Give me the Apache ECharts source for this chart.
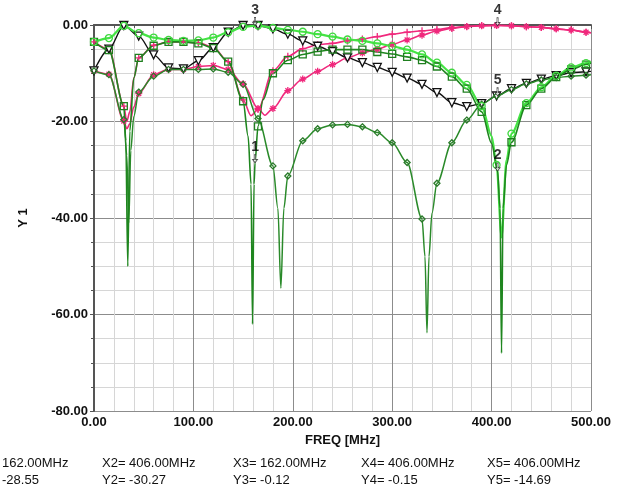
<!DOCTYPE html>
<html>
<head>
<meta charset="utf-8">
<script src="https://cdn.jsdelivr.net/npm/echarts@6/dist/echarts.min.js"></script>
<style>
html,body{margin:0;padding:0;background:#fff;}
#container{width:619px;height:491px;}
</style>
</head>
<body>
<div id="container"></div>
<script>
// traces: [freq MHz, dB]
var lightGreen = [[0,-3.5],[15,-2.7],[30,-0.2],[45,-1.7],[60,-2.6],[75,-3.1],[90,-3.3],[105,-3.2],[120,-2.6],[135,-1.5],[150,-0.4],[165,-0.1],[180,-0.6],[195,-1.0],[210,-1.4],[225,-1.9],[240,-2.4],[255,-3.0],[270,-3.3],[285,-3.8],[300,-4.4],[315,-5.1],[330,-6.1],[345,-7.8],[360,-9.9],[375,-12.4],[390,-16.8],[400,-23],[405,-29],[410,-44],[415,-28],[420,-22.5],[435,-16.2],[450,-12.9],[465,-10.5],[480,-8.8],[495,-7.9],[500,-7.6]];
var darkGreen = [[0,-3.5],[15,-5.2],[30,-16.8],[32,-24],[34,-50],[36,-22],[40,-11],[45,-6.8],[60,-4.3],[75,-3.5],[90,-3.5],[105,-3.8],[120,-4.8],[135,-7.6],[150,-15.8],[155,-23],[158,-33],[159.5,-62],[161,-33],[162,-28.55],[165,-21],[170,-15.5],[180,-10],[195,-7.3],[210,-6.1],[225,-5.5],[240,-5.1],[255,-5.1],[270,-5.1],[285,-5.6],[300,-6.0],[315,-6.6],[330,-7.3],[345,-8.6],[360,-10.7],[375,-13.2],[390,-18.0],[400,-24.5],[406,-30.27],[408.5,-38],[410,-68],[411.5,-38],[415,-29],[420,-24.3],[435,-16.6],[450,-13.2],[465,-10.8],[480,-9.2],[495,-8.2],[500,-7.9]];
var oliveGreen = [[0,-9.5],[15,-10.3],[30,-19.6],[33,-27],[35,-41],[37,-26],[40,-19],[45,-13.9],[60,-10.6],[75,-9.2],[90,-9.2],[105,-9.2],[120,-9.1],[135,-9.8],[150,-12.3],[165,-19.4],[180,-29.2],[185,-38],[188,-54.5],[191,-38],[195,-31.3],[210,-24],[225,-21.5],[240,-20.7],[255,-20.6],[270,-21.1],[285,-22.3],[300,-24.4],[315,-28.5],[330,-40.2],[333,-48],[335,-63.8],[337,-48],[340,-39],[345,-32.8],[360,-24.4],[375,-19.7],[390,-16.4],[405,-14.7],[420,-13.4],[435,-12.2],[450,-11.4],[465,-10.9],[480,-10.6],[495,-10.4],[500,-10.3]];
var blackTrace = [[0,-9.5],[15,-5],[30,-0.1],[45,-2.3],[60,-6.2],[75,-8.9],[90,-9.1],[105,-7.4],[120,-4.7],[135,-1.5],[150,-0.1],[165,-0.1],[180,-0.8],[195,-1.9],[210,-3.3],[225,-4.4],[240,-5.5],[255,-6.8],[270,-7.8],[285,-8.8],[300,-9.8],[315,-11.0],[330,-12.3],[345,-14.0],[360,-16.1],[375,-16.9],[390,-16.3],[405,-14.7],[420,-13.2],[435,-12.1],[450,-11.2],[465,-10.5],[480,-9.9],[495,-9.7],[500,-9.6]];
var pinkStar = [[0,-9.5],[15,-10.2],[30,-19.9],[33,-21.5],[36,-20.5],[40,-17],[45,-14.2],[60,-10.3],[75,-9.2],[90,-9.2],[105,-8.6],[120,-8.4],[135,-9.2],[150,-12.2],[165,-17.3],[172,-18.7],[180,-17.3],[195,-13.6],[210,-11.2],[225,-9.6],[240,-8.2],[255,-6.8],[270,-5.8],[285,-5.0],[300,-4.0],[315,-3.1],[330,-2.1],[345,-1.25],[360,-0.7],[375,-0.35],[390,-0.15],[405,-0.1],[420,-0.15],[435,-0.35],[450,-0.5],[465,-0.8],[480,-1.05],[495,-1.5],[500,-1.6]];
var pinkPlus = [[0,-3.5],[15,-5.0],[30,-16.8],[33,-20],[36,-18],[40,-11],[45,-6.8],[60,-4.2],[75,-3.5],[90,-3.5],[105,-3.7],[120,-4.6],[135,-7.6],[150,-15.5],[158,-18.8],[165,-17.5],[180,-9.5],[195,-6.5],[210,-4.9],[225,-4.1],[240,-3.8],[255,-3.3],[270,-2.9],[285,-2.4],[300,-1.9],[315,-1.5],[330,-1.2],[345,-0.95],[360,-0.55],[375,-0.3],[390,-0.12],[405,-0.05],[420,-0.15],[435,-0.35],[450,-0.5],[465,-0.8],[480,-1.05],[495,-1.5],[500,-1.6]];

// markers 1..5
var markerNames = ['1','2','3','4','5'];
var markerFreq = [162, 406, 162, 406, 406];
var markerVal = [-28.55, -30.27, -0.12, -0.15, -14.69];

var dom = document.getElementById('container');
var myChart = echarts.init(dom);

var FONT = '"Liberation Sans", Arial, sans-serif';
var PINK = '#f0287c';

// trace markers sit every 15 MHz
function markerPoints(curve){
	return curve.filter(function(p){ return p[0] % 15 === 0; });
}

function trace(data, color, width, z){
	return {
		type: 'line', data: data, smooth: 0.3, smoothMonotone: 'x',
		showSymbol: false, z: z, silent: true,
		lineStyle: {color: color, width: width}
	};
}
function marks(data, symbol, size, fill, stroke, rot, z){
	return {
		type: 'scatter', data: markerPoints(data), symbol: symbol, symbolSize: size,
		symbolRotate: rot || 0, z: z, silent: true,
		itemStyle: {color: fill, borderColor: stroke, borderWidth: 1.3, opacity: 1}
	};
}

var starPath = 'path://M5,0 L5,10 M0,5 L10,5 M1.5,1.5 L8.5,8.5 M8.5,1.5 L1.5,8.5';
var plusPath = 'path://M5,0 L5,10 M0,5 L10,5';

var option = {
	animation: false,
	backgroundColor: '#fff',
	grid: {left: 94, right: 28, top: 25, bottom: 80},
	xAxis: {
		type: 'value', min: 0, max: 500, interval: 100,
		name: 'FREQ [MHz]', nameLocation: 'middle', nameGap: 20,
		nameTextStyle: {fontFamily: FONT, fontWeight: 'bold', fontSize: 13, color: '#111'},
		axisLine: {show: true, lineStyle: {color: '#555', width: 2}},
		axisTick: {show: true, length: 4, lineStyle: {color: '#555'}},
		minorTick: {show: true, splitNumber: 5, length: 3, lineStyle: {color: '#555'}},
		axisLabel: {fontFamily: FONT, fontWeight: 'bold', fontSize: 13, color: '#111', margin: 5,
			formatter: function(v){ return v.toFixed(2); }},
		splitLine: {show: true, lineStyle: {color: '#8c8c8c', width: 1}},
		minorSplitLine: {show: true, lineStyle: {color: '#d6d6d6', width: 1}}
	},
	yAxis: {
		type: 'value', min: -80, max: 0, interval: 20,
		name: 'Y 1', nameLocation: 'middle', nameGap: 64,
		nameTextStyle: {fontFamily: FONT, fontWeight: 'bold', fontSize: 13, color: '#111'},
		axisLine: {show: true, lineStyle: {color: '#555', width: 2}},
		axisTick: {show: true, length: 4, lineStyle: {color: '#555'}},
		minorTick: {show: true, splitNumber: 4, length: 3, lineStyle: {color: '#555'}},
		axisLabel: {fontFamily: FONT, fontWeight: 'bold', fontSize: 13, color: '#111', margin: 6,
			formatter: function(v){ return v.toFixed(2); }},
		splitLine: {show: true, lineStyle: {color: '#8c8c8c', width: 1}},
		minorSplitLine: {show: true, lineStyle: {color: '#d6d6d6', width: 1}}
	},
	series: [
		trace(pinkStar, PINK, 1.6, 2),
		trace(pinkPlus, PINK, 1.6, 2),
		trace(blackTrace, '#111', 1.4, 3),
		trace(oliveGreen, '#2a8a2a', 1.5, 4),
		trace(darkGreen, '#1f861f', 1.6, 5),
		trace(lightGreen, '#44e444', 2.2, 4),
		marks(pinkStar, starPath, 7, 'none', PINK, 0, 6),
		marks(pinkPlus, plusPath, 7, 'none', PINK, 0, 6),
		marks(blackTrace, 'triangle', 8, '#fff', '#111', 180, 7),
		marks(oliveGreen, 'diamond', 6, 'none', '#2a7a2a', 0, 7),
		marks(darkGreen, 'rect', 7, 'none', '#1f7f1f', 0, 7),
		marks(lightGreen, 'circle', 7, 'none', '#3fd83f', 0, 7),
		{
			type: 'scatter', z: 9, silent: true,
			data: markerNames.map(function(n, i){ return {name: n, value: [markerFreq[i], markerVal[i]]}; }),
			symbol: 'path://M3,0 L5,0 L5,7 L8,7 L4,12 L0,7 L3,7 Z',
			symbolSize: [5, 8], symbolOffset: [0, -4],
			itemStyle: {color: '#fff', borderColor: '#222', borderWidth: 0.8},
			label: {show: true, position: 'top', distance: 0, formatter: '{b}',
				fontFamily: FONT, fontSize: 14, fontWeight: 'bold', color: '#000'}
		}
	],
	graphic: []
};

// marker readout under the plot (first column is cut off at the left edge)
var colX = [2, 102, 233, 361, 487];
markerNames.forEach(function(n, i){
	var xs = (i === 0 ? '' : 'X' + n + '= ') + markerFreq[i].toFixed(2) + 'MHz';
	var ys = (i === 0 ? '' : 'Y' + n + '= ') + markerVal[i].toFixed(2);
	option.graphic.push({type: 'text', left: colX[i], top: 457,
		style: {text: xs, font: '13px ' + FONT, fill: '#111'}});
	option.graphic.push({type: 'text', left: colX[i], top: 474,
		style: {text: ys, font: '13px ' + FONT, fill: '#111'}});
});

myChart.setOption(option, true);
</script>
</body>
</html>
